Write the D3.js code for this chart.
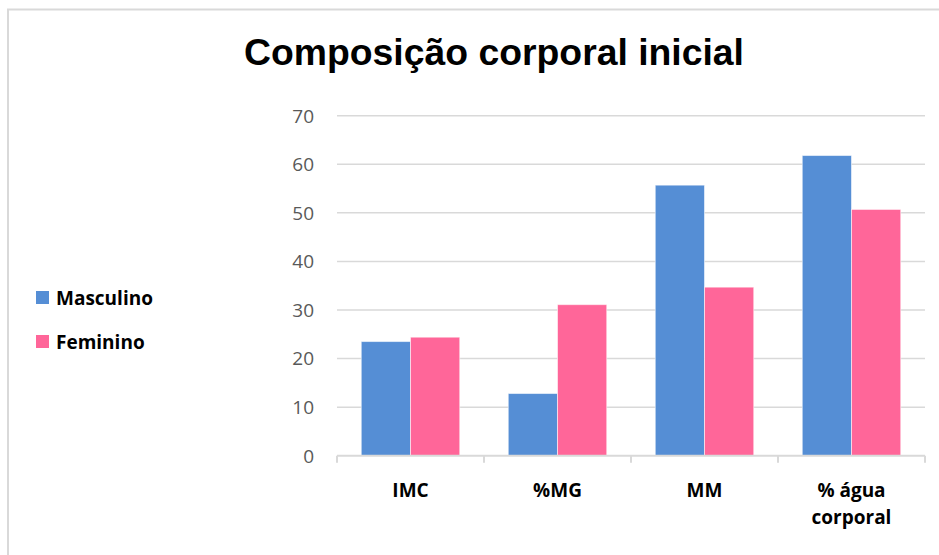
<!DOCTYPE html>
<html>
<head>
<meta charset="utf-8">
<script src="https://cdn.jsdelivr.net/npm/d3@7"></script>
<style>
  html, body { margin: 0; padding: 0; background: #fff; }
  svg { display: block; }
</style>
</head>
<body>
<svg id="chart" width="939" height="555"></svg>
<script>
// Body composition at baseline, by sex
const categories = [["IMC"], ["%MG"], ["MM"], ["% água", "corporal"]];
const seriesNames = ["Masculino", "Feminino"];
const masculino = [23.5, 12.8, 55.7, 61.8];
const feminino = [24.4, 31.1, 34.7, 50.7];
const yTicks = [0, 10, 20, 30, 40, 50, 60, 70];
const colors = ["#558ED5", "#FF6699"];
const titleText = "Composição corporal inicial";

const svg = d3.select("#chart");

// outer chart frame
svg.append("path")
  .attr("d", "M8,560 L8,9.5 L945,9.5")
  .attr("fill", "none")
  .attr("stroke", "#d9d9d9")
  .attr("stroke-width", 2);

const plot = { left: 337, right: 925, top: 115.7, bottom: 455.7 };

const keys = categories.map(c => c.join(" "));
const x = d3.scaleBand().domain(keys).range([plot.left, plot.right])
  .paddingInner(0.33).paddingOuter(0.165);
const xOuter = d3.scaleBand().domain(keys).range([plot.left, plot.right]);
const xSub = d3.scaleBand().domain(seriesNames).range([0, x.bandwidth()]);
const y = d3.scaleLinear().domain([0, 70]).range([plot.bottom, plot.top]);

// horizontal gridlines
svg.append("g")
  .selectAll("line")
  .data(yTicks.filter(t => t > 0))
  .join("line")
  .attr("x1", plot.left).attr("x2", plot.right)
  .attr("y1", d => y(d)).attr("y2", d => y(d))
  .attr("stroke", "#d9d9d9").attr("stroke-width", 1.5);

// y tick labels
svg.append("g")
  .selectAll("text")
  .data(yTicks)
  .join("text")
  .attr("x", 314)
  .attr("y", d => y(d))
  .attr("dy", "0.36em")
  .attr("text-anchor", "end")
  .attr("font-family", "'Open Sans', sans-serif")
  .attr("font-size", 19)
  .attr("fill", "#595959")
  .text(d => d);

// bars
const rows = keys.map((k, i) => ({ key: k, values: [masculino[i], feminino[i]] }));
const groups = svg.append("g").selectAll("g")
  .data(rows)
  .join("g")
  .attr("transform", d => `translate(${x(d.key)},0)`);

groups.selectAll("rect")
  .data(d => d.values.map((v, j) => ({ name: seriesNames[j], value: v, j })))
  .join("rect")
  .attr("x", d => xSub(d.name))
  .attr("y", d => y(d.value))
  .attr("width", xSub.bandwidth())
  .attr("height", d => y(0) - y(d.value))
  .attr("fill", d => colors[d.j])
  .attr("stroke", "rgba(255,255,255,0.55)")
  .attr("stroke-width", 1);

// category axis line and ticks
const axis = svg.append("g");
axis.append("line")
  .attr("x1", plot.left).attr("x2", plot.right)
  .attr("y1", plot.bottom).attr("y2", plot.bottom)
  .attr("stroke", "#d9d9d9").attr("stroke-width", 2);
const tickXs = keys.map(k => xOuter(k)).concat([plot.right]);
axis.selectAll("line.tick")
  .data(tickXs)
  .join("line")
  .attr("class", "tick")
  .attr("x1", d => d).attr("x2", d => d)
  .attr("y1", plot.bottom).attr("y2", plot.bottom + 7)
  .attr("stroke", "#d9d9d9").attr("stroke-width", 2);

// category labels
const catLabels = svg.append("g").selectAll("text")
  .data(categories)
  .join("text")
  .attr("x", (d, i) => xOuter(keys[i]) + xOuter.bandwidth() / 2)
  .attr("y", 497)
  .attr("text-anchor", "middle")
  .attr("font-family", "'Open Sans', sans-serif")
  .attr("font-weight", "bold")
  .attr("font-size", 19)
  .attr("fill", "#000");
catLabels.selectAll("tspan")
  .data(d => d)
  .join("tspan")
  .attr("x", function () { return d3.select(this.parentNode).attr("x"); })
  .attr("dy", (d, i) => i === 0 ? 0 : 27)
  .text(d => d);

// legend
const legend = svg.append("g").selectAll("g")
  .data(seriesNames)
  .join("g")
  .attr("transform", (d, i) => `translate(36,${291 + i * 44})`);
legend.append("rect")
  .attr("width", 13).attr("height", 13)
  .attr("fill", (d, i) => colors[i]);
legend.append("text")
  .attr("x", 20)
  .attr("y", 14)
  .attr("font-family", "'Open Sans', sans-serif")
  .attr("font-weight", "bold")
  .attr("font-size", 19)
  .attr("fill", "#000")
  .text(d => d);

// title
svg.append("text")
  .attr("x", 494)
  .attr("y", 65)
  .attr("text-anchor", "middle")
  .attr("font-family", "'Liberation Sans', Arial, sans-serif")
  .attr("font-weight", "bold")
  .attr("font-size", 36)
  .attr("textLength", 500)
  .attr("lengthAdjust", "spacingAndGlyphs")
  .attr("fill", "#000")
  .text(titleText);
</script>
</body>
</html>
